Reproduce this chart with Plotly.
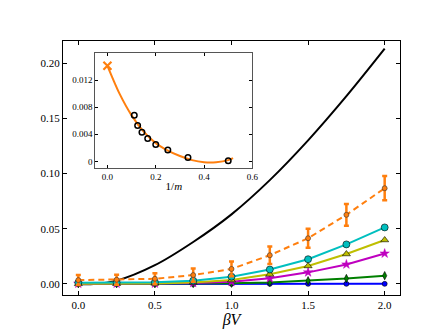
import plotly.graph_objects as go

# ---- main panel data ----
beta_v = [0.0, 0.25, 0.5, 0.75, 1.0, 1.25, 1.5, 1.75, 2.0]
blue_vals = [0.0, 0.0, 0.0, 0.0, 0.0001, 0.0001, 0.0001, 0.0001, 0.0001]
green_vals = [0.0002, 0.0002, 0.0002, 0.0004, 0.0007, 0.0014, 0.0029, 0.0049, 0.0075]
magenta_vals = [0.0003, 0.0003, 0.0004, 0.0009, 0.0020, 0.0052, 0.0105, 0.0177, 0.0276]
yellow_vals = [0.0001, 0.0002, 0.0005, 0.0013, 0.0035, 0.0087, 0.0163, 0.0271, 0.0398]
cyan_vals = [0.0012, 0.0012, 0.0015, 0.0030, 0.0066, 0.0131, 0.0224, 0.0358, 0.0512]
orange_vals = [0.0035, 0.0038, 0.0047, 0.0080, 0.0136, 0.0260, 0.0414, 0.0626, 0.0867]
orange_err = [0.0045, 0.0045, 0.0050, 0.0060, 0.0067, 0.0079, 0.0087, 0.0099, 0.0110]

black_x = [0.0, 0.1, 0.25, 0.5, 0.75, 1.0, 1.25, 1.5, 1.75, 2.0]
black_y = [0.0, 0.0, 0.003, 0.017, 0.038, 0.063, 0.094, 0.130, 0.170, 0.213]

# ---- inset data ----
inv_m = [1/9, 1/8, 1/7, 1/6, 1/5, 1/4, 1/3, 1/2]
inset_vals = [0.0068, 0.0053, 0.0043, 0.0034, 0.0025, 0.0017, 0.0006, 0.0001]
extrap_x = [0.0]
extrap_y = [0.0141]
fit_x = [0.0, 0.05, 0.1, 0.15, 0.2, 0.25, 0.3, 0.35, 0.4, 0.45, 0.5, 0.52]
fit_y = [0.0141, 0.0100, 0.0068, 0.0044, 0.0027, 0.0016, 0.0008, 0.0002, -0.0001, -0.0001, 0.0002, 0.0005]

main_xticks = [0.0, 0.5, 1.0, 1.5, 2.0]
main_yticks = [0.0, 0.05, 0.10, 0.15, 0.20]
inset_xticks = [0.0, 0.2, 0.4, 0.6]
inset_yticks = [0.0, 0.004, 0.008, 0.012]
inset_ytext = ["0", "0.004", "0.008", "0.012"]

ORANGE = "#ff7f0e"
FONT = "Liberation Serif"

fig = go.Figure()

fig.add_trace(go.Scatter(x=black_x, y=black_y, mode="lines", line=dict(color="black", width=2, shape="spline", smoothing=1.0)))

fig.add_trace(go.Scatter(x=beta_v, y=blue_vals, mode="lines+markers",
                         line=dict(color="#0000ff", width=2),
                         marker=dict(symbol="circle", size=5, color="#0000ff", line=dict(color="black", width=0.6))))
fig.add_trace(go.Scatter(x=beta_v, y=green_vals, mode="lines+markers",
                         line=dict(color="#008000", width=2),
                         marker=dict(symbol="diamond-tall", size=6, color="#008000", line=dict(color="black", width=0.6))))
fig.add_trace(go.Scatter(x=beta_v, y=magenta_vals, mode="lines+markers",
                         line=dict(color="#bf00bf", width=2),
                         marker=dict(symbol="star", size=7, color="#bf00bf", line=dict(color="#bf00bf", width=0.5))))
fig.add_trace(go.Scatter(x=beta_v, y=yellow_vals, mode="lines+markers",
                         line=dict(color="#bfbf00", width=2),
                         marker=dict(symbol="triangle-up", size=7, color="#bfbf00", line=dict(color="black", width=0.6))))
fig.add_trace(go.Scatter(x=beta_v, y=cyan_vals, mode="lines+markers",
                         line=dict(color="#00bfbf", width=2),
                         marker=dict(symbol="circle", size=7, color="#00bfbf", line=dict(color="black", width=0.6))))
fig.add_trace(go.Scatter(x=beta_v, y=orange_vals, mode="lines+markers",
                         line=dict(color=ORANGE, width=2, dash="6px,4px"),
                         error_y=dict(type="data", array=orange_err, color=ORANGE, thickness=2.5, width=2.5),
                         marker=dict(symbol="circle", size=5, color=ORANGE, line=dict(color="#333333", width=0.6))))

# inset
fig.add_trace(go.Scatter(x=fit_x, y=fit_y, mode="lines", xaxis="x2", yaxis="y2",
                         line=dict(color=ORANGE, width=2, shape="spline", smoothing=0.8)))
fig.add_trace(go.Scatter(x=inv_m, y=inset_vals, mode="markers", xaxis="x2", yaxis="y2",
                         marker=dict(symbol="circle-open", size=5.5, color="black", line=dict(color="black", width=1.5))))
fig.add_trace(go.Scatter(x=extrap_x, y=extrap_y, mode="markers", xaxis="x2", yaxis="y2",
                         marker=dict(symbol="x-thin", size=8, color=ORANGE, line=dict(color=ORANGE, width=2.2))))

axis_common = dict(showgrid=False, zeroline=False, ticks="inside", mirror="ticks",
                   showline=True, linecolor="black", linewidth=1, tickcolor="black",
                   ticklen=4, tickfont=dict(family=FONT, size=11, color="black"))

fig.update_layout(
    width=436, height=329,
    margin=dict(l=55, r=44, t=33, b=34),
    paper_bgcolor="white", plot_bgcolor="white",
    showlegend=False,
    font=dict(family=FONT, color="black"),
    xaxis=dict(axis_common, range=[-0.1, 2.1], tickvals=main_xticks, tickformat=".1f",
               title=dict(text="<i>βV</i>", font=dict(family=FONT, size=16), standoff=3)),
    yaxis=dict(axis_common, range=[-0.01, 0.22], tickvals=main_yticks, tickformat=".2f"),
    xaxis2=dict(axis_common, domain=[0.096, 0.562], anchor="y2", range=[-0.05, 0.6],
                tickvals=inset_xticks, tickformat=".1f", linecolor="#555555", ticklen=3,
                tickfont=dict(family=FONT, size=9, color="black"),
                title=dict(text="1/<i>m</i>", font=dict(family=FONT, size=11), standoff=1)),
    yaxis2=dict(axis_common, domain=[0.499, 0.953], anchor="x2", range=[-0.001, 0.016],
                tickvals=inset_yticks, ticktext=inset_ytext, linecolor="#555555", ticklen=3,
                tickfont=dict(family=FONT, size=9, color="black")),
)

fig.write_html("out.html")
